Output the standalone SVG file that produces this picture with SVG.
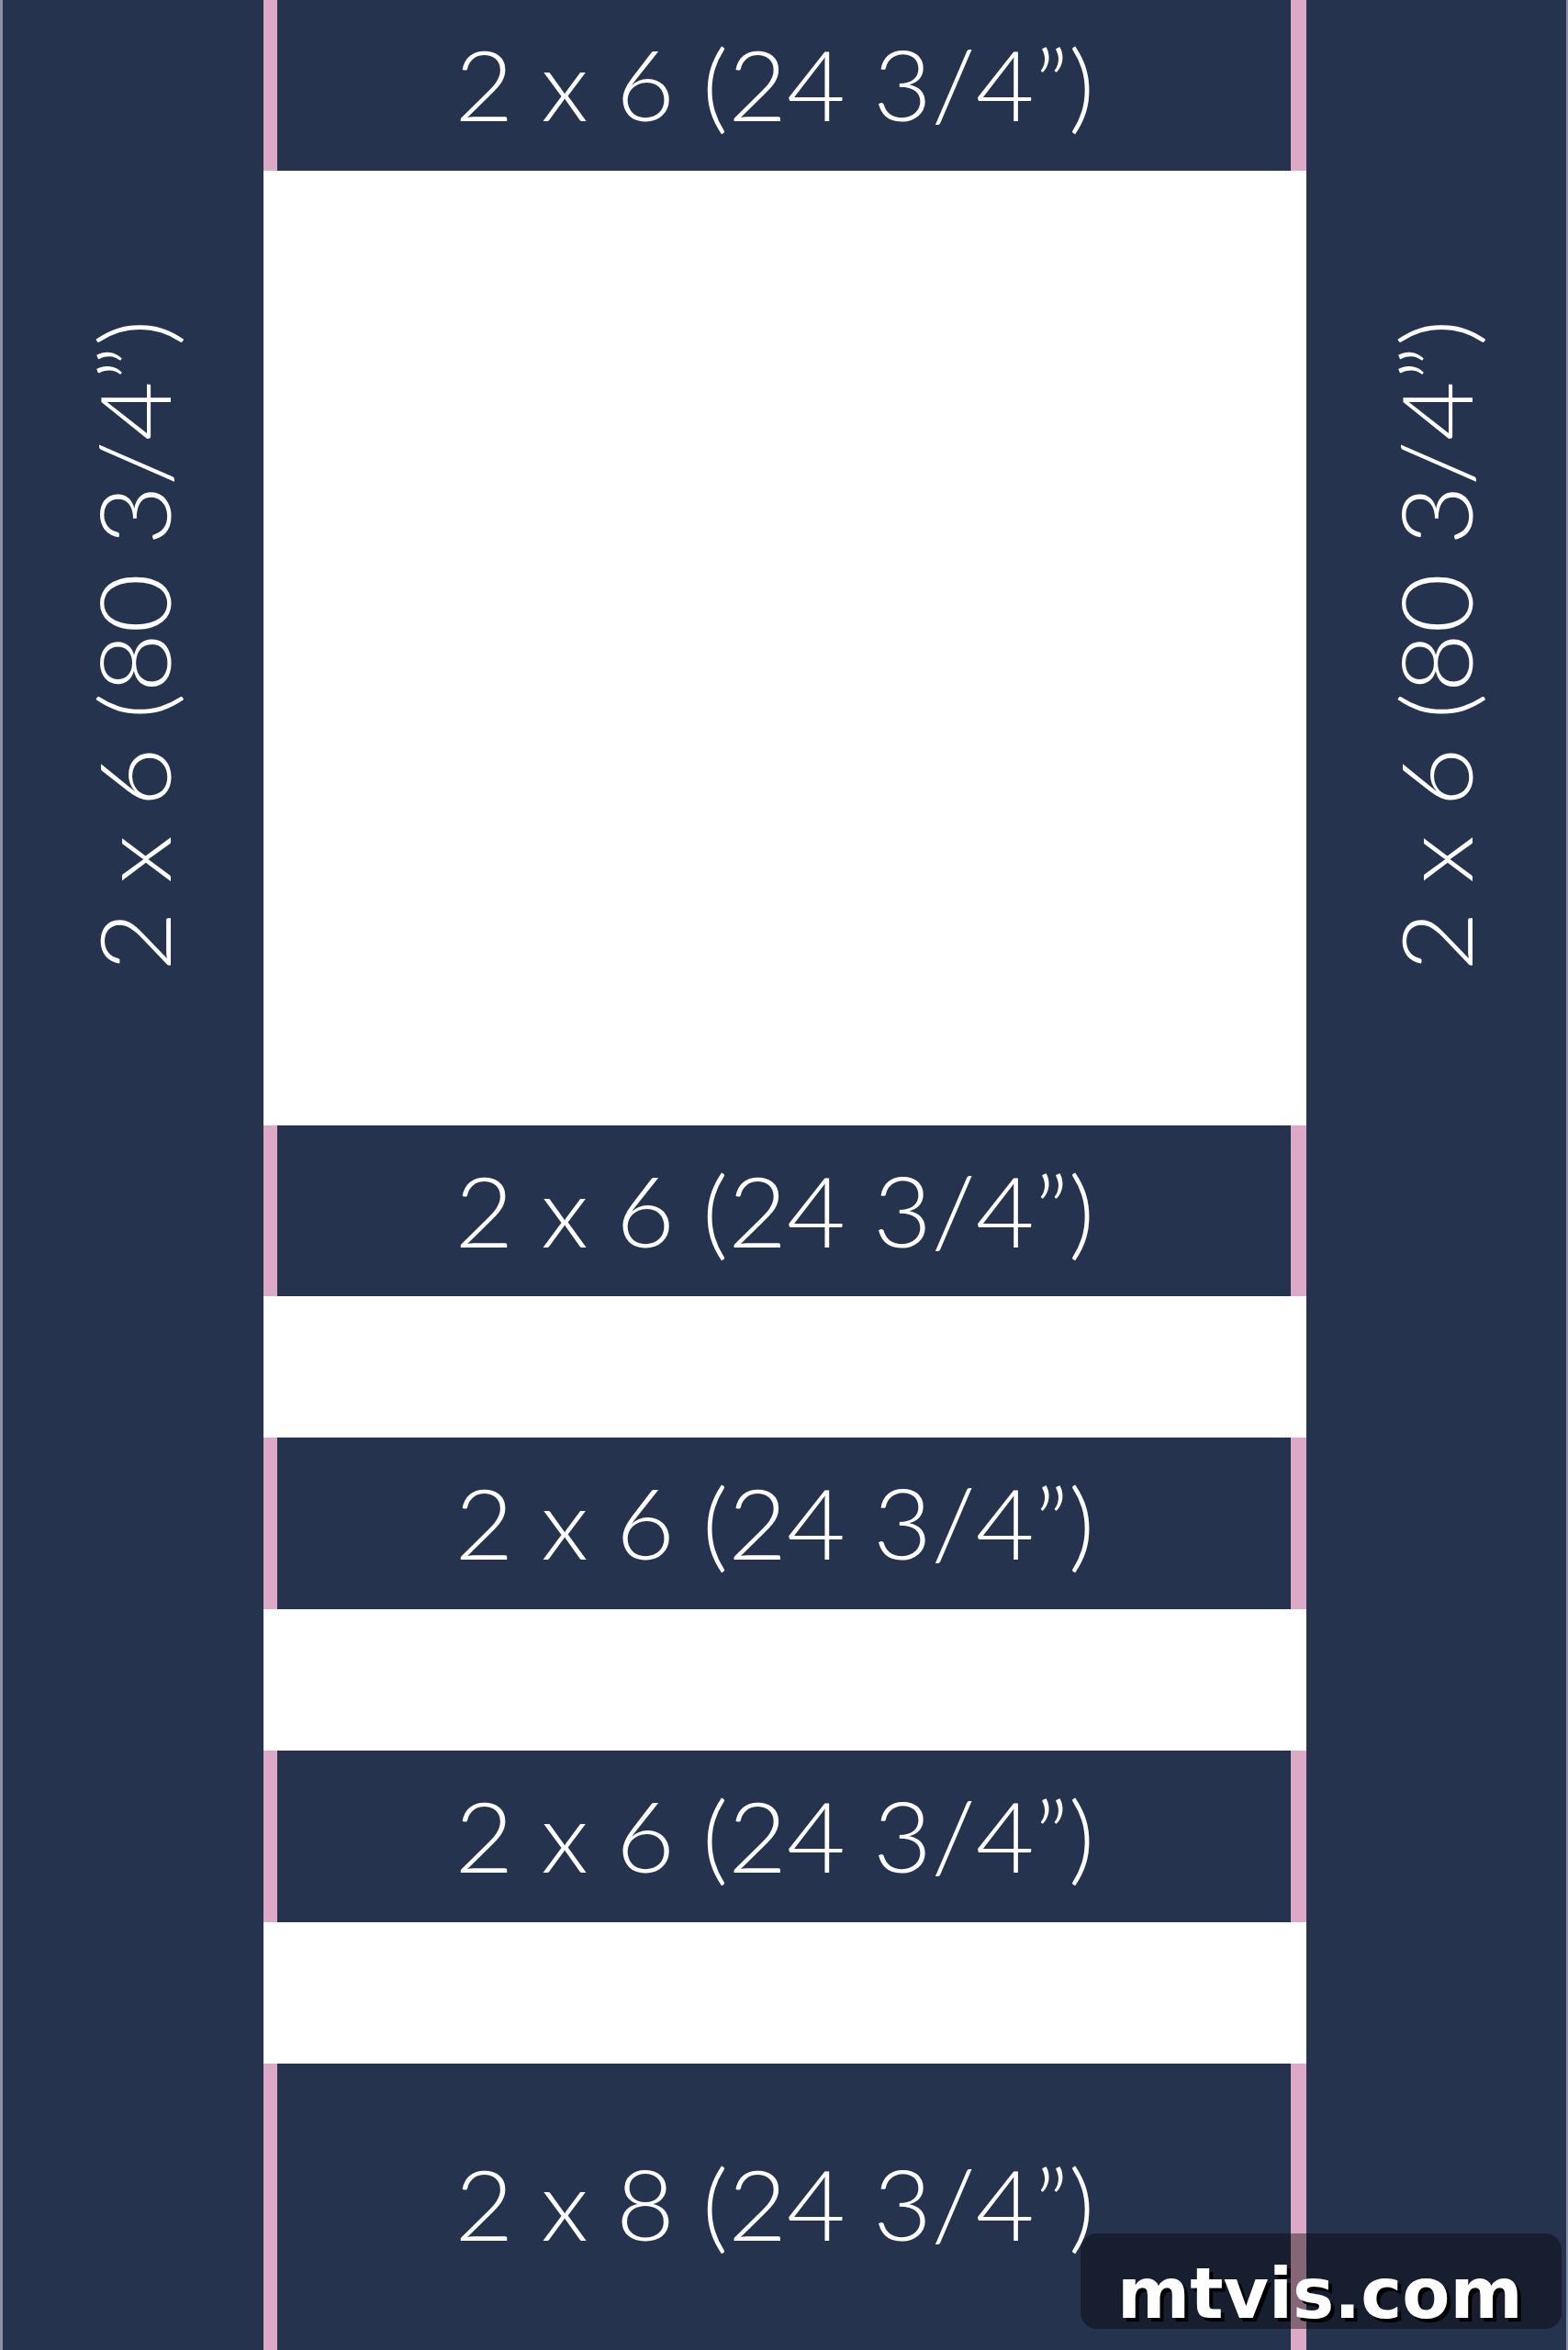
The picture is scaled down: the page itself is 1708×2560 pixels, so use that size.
<svg xmlns="http://www.w3.org/2000/svg" width="1708" height="2560" viewBox="0 0 1708 2560">
<style>
.wood{fill:#26334f}
.pink{fill:#dcaac6}
.lbl{font-family:Lato,"Open Sans","Liberation Sans",sans-serif;font-weight:300;font-size:106px;fill:#ffffff;text-anchor:middle}
.wm{font-family:"DejaVu Sans","Liberation Sans",sans-serif;font-weight:bold;font-size:76px;text-anchor:start}
</style>
<rect x="0" y="0" width="1708" height="2560" fill="#ffffff"/>
<rect x="0" y="0" width="3" height="2560" fill="#8a92a3"/>
<rect x="1706" y="0" width="2" height="2560" fill="#8a92a3"/>
<g id="post-left">
<rect class="wood" x="3" y="0" width="284" height="2560"/>
<text class="lbl" transform="translate(186,703) rotate(-90)" textLength="710" lengthAdjust="spacingAndGlyphs">2 x 6 (80 3/4”)</text>
</g>
<g id="post-right">
<rect class="wood" x="1423" y="0" width="283" height="2560"/>
<text class="lbl" transform="translate(1604,703) rotate(-90)" textLength="710" lengthAdjust="spacingAndGlyphs">2 x 6 (80 3/4”)</text>
</g>
<g id="rail-1">
<rect class="pink" x="287" y="0" width="15" height="186"/>
<rect class="pink" x="1406" y="0" width="17" height="186"/>
<rect class="wood" x="302" y="0" width="1104" height="186"/>
<text class="lbl" x="844" y="132" textLength="697" lengthAdjust="spacingAndGlyphs">2 x 6 (24 3/4”)</text>
</g>
<g id="rail-2">
<rect class="pink" x="287" y="1226" width="15" height="186"/>
<rect class="pink" x="1406" y="1226" width="17" height="186"/>
<rect class="wood" x="302" y="1226" width="1104" height="186"/>
<text class="lbl" x="844" y="1359" textLength="697" lengthAdjust="spacingAndGlyphs">2 x 6 (24 3/4”)</text>
</g>
<g id="rail-3">
<rect class="pink" x="287" y="1566" width="15" height="187"/>
<rect class="pink" x="1406" y="1566" width="17" height="187"/>
<rect class="wood" x="302" y="1566" width="1104" height="187"/>
<text class="lbl" x="844" y="1699" textLength="697" lengthAdjust="spacingAndGlyphs">2 x 6 (24 3/4”)</text>
</g>
<g id="rail-4">
<rect class="pink" x="287" y="1907" width="15" height="187"/>
<rect class="pink" x="1406" y="1907" width="17" height="187"/>
<rect class="wood" x="302" y="1907" width="1104" height="187"/>
<text class="lbl" x="844" y="2040" textLength="697" lengthAdjust="spacingAndGlyphs">2 x 6 (24 3/4”)</text>
</g>
<g id="rail-5">
<rect class="pink" x="287" y="2248" width="15" height="312"/>
<rect class="pink" x="1406" y="2248" width="17" height="312"/>
<rect class="wood" x="302" y="2248" width="1104" height="312"/>
<text class="lbl" x="844" y="2441" textLength="697" lengthAdjust="spacingAndGlyphs">2 x 8 (24 3/4”)</text>
</g>
<g id="watermark">
<rect x="1177" y="2433" width="524" height="104" rx="18" fill="#000000" fill-opacity="0.4"/>
<text class="wm" x="1221" y="2529" fill="#000000">mtvis.com</text>
<text class="wm" x="1217" y="2525" fill="#ffffff">mtvis.com</text>
</g>
</svg>
